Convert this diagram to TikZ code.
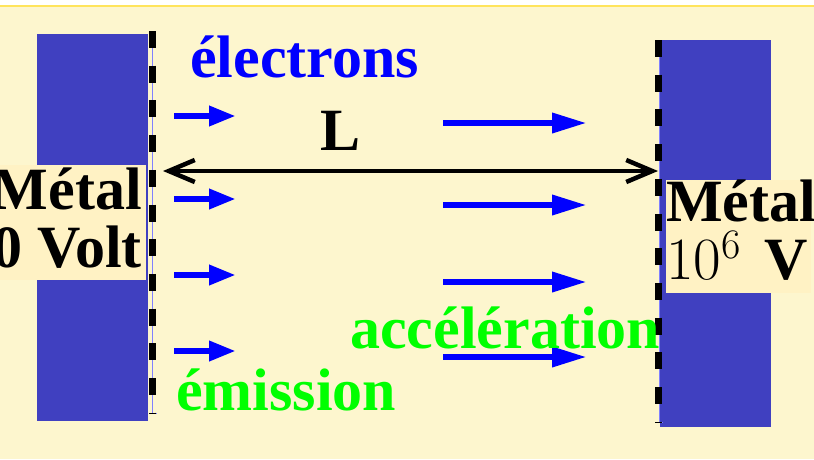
\RequirePackage{fix-cm}
\documentclass[tikz,border=0pt]{standalone}
\usepackage{fontspec}
\setmainfont{Liberation Serif}
\usetikzlibrary{arrows.meta}
\definecolor{cream}{RGB}{253,246,206}
\definecolor{topline}{RGB}{255,228,92}
\definecolor{metal}{RGB}{64,64,192}
\definecolor{labelbg}{RGB}{255,242,196}
\definecolor{wire}{RGB}{128,128,255}
\newcommand\slidefont{\fontsize{60}{58}\selectfont\bfseries}

\begin{document}
\begin{tikzpicture}[x=1pt, y=-1pt,
  surface/.style={line width=7pt, dash pattern=on 17pt off 17.7pt},
  flow/.style={blue, line width=6.5pt, -{Triangle[length=27pt,width=19pt]}},
  flowlong/.style={flow, -{Triangle[length=35pt,width=19pt]}},
  labeltext/.style={font=\slidefont, inner sep=0pt},
  word/.style={font=\slidefont, inner sep=0pt, anchor=base west}]
  \useasboundingbox (0,0) rectangle (814,459);
  % Slide background
  \fill[white] (0,0) rectangle (814,459);
  \fill[cream] (0,6) rectangle (814,459);
  \draw[topline, line width=2pt] (0,6) -- (814,6);
  % Metal plates
  \fill[metal] (37,34) rectangle (148,421);
  \fill[metal] (660,40) rectangle (771,427);
  % Surfaces
  \draw[wire, line width=1pt] (152.5,31) -- (152.5,413) ++(-3,0) -- ++(7,0);
  \draw[wire, line width=1pt] (659.5,40) -- (659.5,422) ++(-3,0) -- ++(6,0);
  \draw[surface] (152,31) -- (152,413);
  \draw[surface] (658,40) -- (658,422);
  % Plate labels
  \fill[labelbg] (0,165) rectangle (146,280);
  \fill[labelbg] (666,180) rectangle (811,293);
  \node (leftlbl) [labeltext, align=right, anchor=east] at (142,218.5) {Métal\\0 Volt};
  \node (rightlbl) [labeltext, align=left, anchor=west] at (666,230.5) {Métal\\$10^6$\hspace{8pt} V};
  % Gap length
  \coordinate (gapL) at (152,171);
  \coordinate (gapR) at (658,171);
  \draw[line width=4.5pt, {Straight Barb[length=26pt,width=22pt]}-{Straight Barb[length=26pt,width=22pt]},
    shorten <=11pt] (gapL) -- (gapR);
  \node (len) [word] at (320,150) {L};
  % Electrons
  \foreach \y in {116,199,275,351}
    \draw[flow] (174,\y) -- (236,\y);
  \foreach \y in {123,205,282,357}
    \draw[flowlong] (443,\y) -- (587,\y);
  \node (elec) [word, blue] at (190,77) {électrons};
  \node (emis) [word, green] at (176,410) {émission};
  \node (accel) [word, green] at (350,348) {accélération};
\end{tikzpicture}
\end{document}
